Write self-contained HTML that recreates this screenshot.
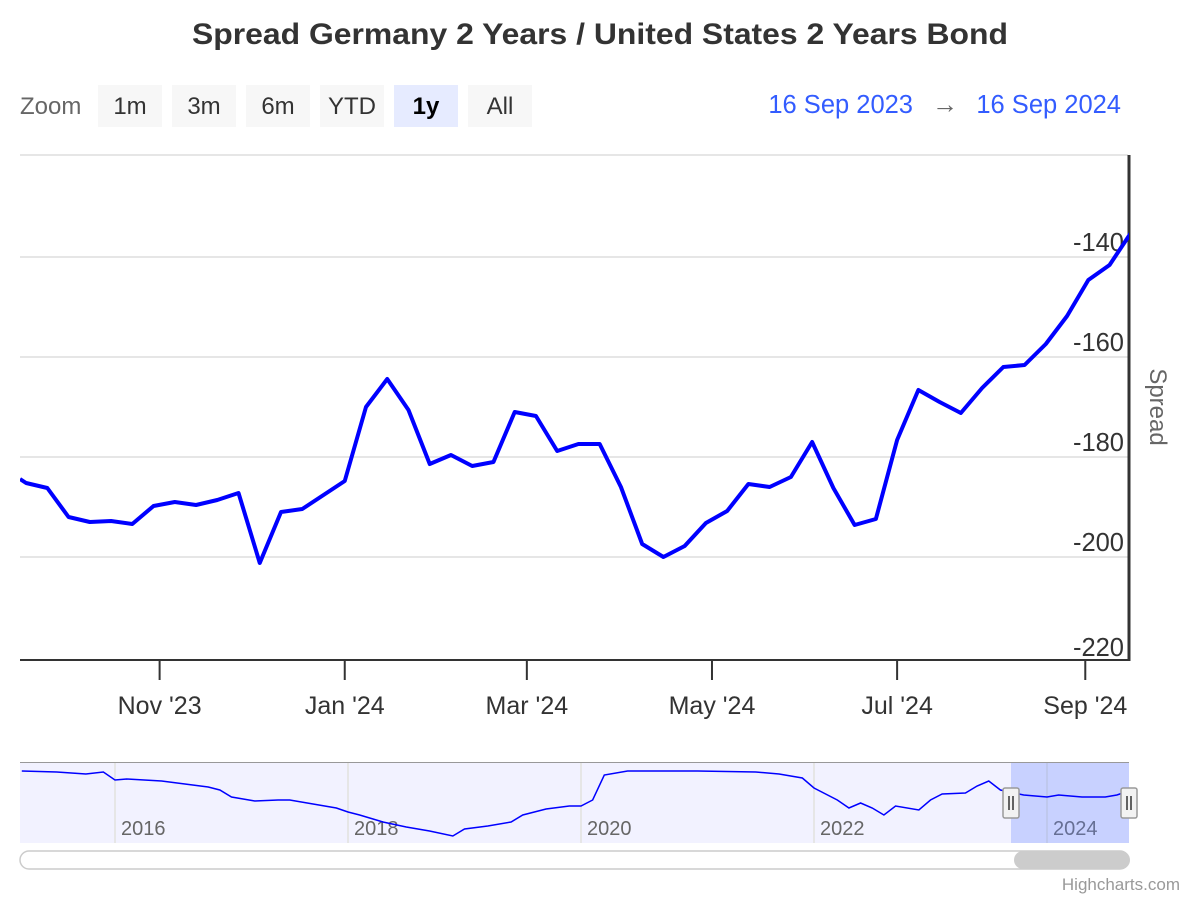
<!DOCTYPE html>
<html><head><meta charset="utf-8"><style>
body{margin:0;background:#fff;font-family:"Liberation Sans",sans-serif;}
svg text{font-family:"Liberation Sans",sans-serif;}
</style></head><body>
<svg id="c" width="1200" height="900">
<text x="192" y="44" font-size="30" font-weight="bold" fill="#333" textLength="816" lengthAdjust="spacingAndGlyphs">Spread Germany 2 Years / United States 2 Years Bond</text>
<g>
<text x="20" y="114" font-size="24" fill="#666">Zoom</text>
<g><rect x="98" y="85" width="64" height="42" fill="#f7f7f7"/><text x="130" y="114" text-anchor="middle" font-size="24" fill="#333">1m</text></g>
<g><rect x="172" y="85" width="64" height="42" fill="#f7f7f7"/><text x="204" y="114" text-anchor="middle" font-size="24" fill="#333">3m</text></g>
<g><rect x="246" y="85" width="64" height="42" fill="#f7f7f7"/><text x="278" y="114" text-anchor="middle" font-size="24" fill="#333">6m</text></g>
<g><rect x="320" y="85" width="64" height="42" fill="#f7f7f7"/><text x="352" y="114" text-anchor="middle" font-size="24" fill="#333">YTD</text></g>
<g><rect x="394" y="85" width="64" height="42" fill="#e6ebff"/><text x="426" y="114" text-anchor="middle" font-size="24" font-weight="bold" fill="#000">1y</text></g>
<g><rect x="468" y="85" width="64" height="42" fill="#f7f7f7"/><text x="500" y="114" text-anchor="middle" font-size="24" fill="#333">All</text></g>
<text x="913" y="113" text-anchor="end" font-size="25.5" fill="#335cff">16 Sep 2023</text>
<text x="945" y="113" text-anchor="middle" font-size="26" fill="#666">→</text>
<text x="1121" y="113" text-anchor="end" font-size="25.5" fill="#335cff">16 Sep 2024</text>
</g>
<g id="grid"></g>
<text transform="translate(1150,407) rotate(90)" text-anchor="middle" font-size="24" fill="#666">Spread</text>
<g id="nav"></g>
<text x="1180" y="890" text-anchor="end" font-size="17" fill="#999">Highcharts.com</text>
</svg>
<script>
const days=[0,2,9,16,23,30,37,44,51,58,65,72,79,86,93,107,114,121,128,135,142,149,156,163,170,177,184,191,198,205,212,219,226,233,240,247,254,261,268,275,282,289,296,303,310,317,324,331,338,345,352,359,366];
const values=[-184.4,-185.2,-186.2,-192,-193,-192.8,-193.4,-189.8,-189,-189.6,-188.6,-187.2,-201.2,-191,-190.4,-184.8,-170,-164.4,-170.6,-181.4,-179.6,-181.8,-181,-171,-171.8,-178.8,-177.4,-177.4,-186,-197.4,-200,-197.8,-193.2,-190.8,-185.4,-186,-184,-177,-186.2,-193.6,-192.4,-176.6,-166.6,-169,-171.2,-166.2,-162,-161.6,-157.4,-151.8,-144.6,-141.6,-135.2];
const yTicks=[-140,-160,-180,-200,-220];
const xLabels=["Nov '23","Jan '24","Mar '24","May '24","Jul '24","Sep '24"];
const xLabelDays=[46,107,167,228,289,351];
const navYears=[2015.2,2015.5,2015.75,2015.9,2016.0,2016.1,2016.4,2016.6,2016.8,2016.9,2017.0,2017.1,2017.2,2017.4,2017.5,2017.7,2017.9,2018.0,2018.1,2018.3,2018.5,2018.7,2018.9,2019.0,2019.2,2019.4,2019.5,2019.7,2019.9,2020.0,2020.1,2020.2,2020.4,2020.6,2021.0,2021.5,2021.7,2021.9,2022.0,2022.2,2022.3,2022.4,2022.5,2022.6,2022.7,2022.9,2023.0,2023.1,2023.3,2023.4,2023.5,2023.6,2023.8,2024.0,2024.1,2024.3,2024.5,2024.6,2024.7];
const navValues=[-20,-22,-26,-22,-38,-36,-40,-46,-52,-58,-72,-76,-80,-78,-78,-86,-94,-102,-108,-122,-132,-140,-150,-136,-130,-122,-108,-96,-90,-90,-78,-28,-20,-20,-20,-22,-26,-34,-54,-78,-94,-84,-94,-108,-90,-98,-78,-66,-64,-50,-40,-58,-68,-72,-68,-72,-72,-68,-60];
const NS="http://www.w3.org/2000/svg";
function mk(t,a,p){const e=document.createElementNS(NS,t);for(const k in a)e.setAttribute(k,a[k]);p.appendChild(e);return e;}
const X0=20,PXD=3.035;
const xS=d=>X0+d*PXD;
const yS=v=>257-(v+140)*5;
const g=document.getElementById('grid');
mk('line',{x1:20,x2:1128,y1:155,y2:155,stroke:'#e6e6e6','stroke-width':2},g);
yTicks.forEach(t=>{const y=yS(t);
 if(t>-220){const l=mk('line',{x1:20,x2:1128,y1:y,y2:y,stroke:'#e6e6e6','stroke-width':2},g);
 
 }
 const tx=mk('text',{x:1124,y:(t==-220?656:y-6),'text-anchor':'end','font-size':25.5,fill:'#333'},g);tx.textContent=t;
 
 });
mk('line',{x1:20,x2:1129,y1:660,y2:660,stroke:'#333','stroke-width':2},g);
mk('line',{x1:1129,x2:1129,y1:155,y2:661,stroke:'#333','stroke-width':3},g);
xLabels.forEach((l,i)=>{const x=xS(xLabelDays[i]);
 mk('line',{x1:x,x2:x,y1:660,y2:680,stroke:'#333','stroke-width':2},g);
 const t=mk('text',{x:x,y:714,'text-anchor':'middle','font-size':25,fill:'#333'},g);t.textContent=l;
 
 });
const cp=mk('clipPath',{id:'pc'},g);mk('rect',{x:20,y:150,width:1109,height:512},cp);
const line=mk('polyline',{points:days.map((d,i)=>xS(d)+','+yS(values[i])).join(' '),fill:'none',stroke:'#0000ff','stroke-width':4,'stroke-linejoin':'round','clip-path':'url(#pc)'},g);


const n=document.getElementById('nav');
const nx=y=>115+(y-2016)*233/2;
const ny=v=>771-(v+20)*65/130;
mk('rect',{x:20,y:762,width:1109,height:81,fill:'#f2f2ff'},n);
[2016,2018,2020,2022,2024].forEach(yr=>{const x=nx(yr);
 mk('line',{x1:x,x2:x,y1:762,y2:843,stroke:'#e6e6e6','stroke-width':2},n);
 const t=mk('text',{x:x+6,y:835,'font-size':20,fill:'#666'},n);t.textContent=yr;
 
 });
const sel=mk('rect',{x:1011,y:762,width:118,height:81,fill:'rgba(102,133,255,0.3)'},n);


const nl=mk('polyline',{points:navYears.map((y,i)=>nx(y)+','+ny(navValues[i])).join(' '),fill:'none',stroke:'#0000ff','stroke-width':1.5},n);


mk('line',{x1:20,x2:1129,y1:762.5,y2:762.5,stroke:'#999','stroke-width':1},n);
[1011,1129].forEach(x=>{const h=mk('g',{},n);
 
 
 mk('rect',{x:x-8,y:788,width:16,height:30,fill:'#f2f2f2',stroke:'#999','stroke-width':1.5,rx:2},h);
 mk('line',{x1:x-2,x2:x-2,y1:796,y2:810,stroke:'#333','stroke-width':1.5},h);
 mk('line',{x1:x+2,x2:x+2,y1:796,y2:810,stroke:'#333','stroke-width':1.5},h);});
const sb=mk('rect',{x:20,y:851,width:1109,height:18,rx:9,fill:'#fff',stroke:'#ccc','stroke-width':1.5},n);


const th=mk('rect',{x:1014,y:851,width:116,height:18,rx:9,fill:'#ccc'},n);


</script>
</body></html>
